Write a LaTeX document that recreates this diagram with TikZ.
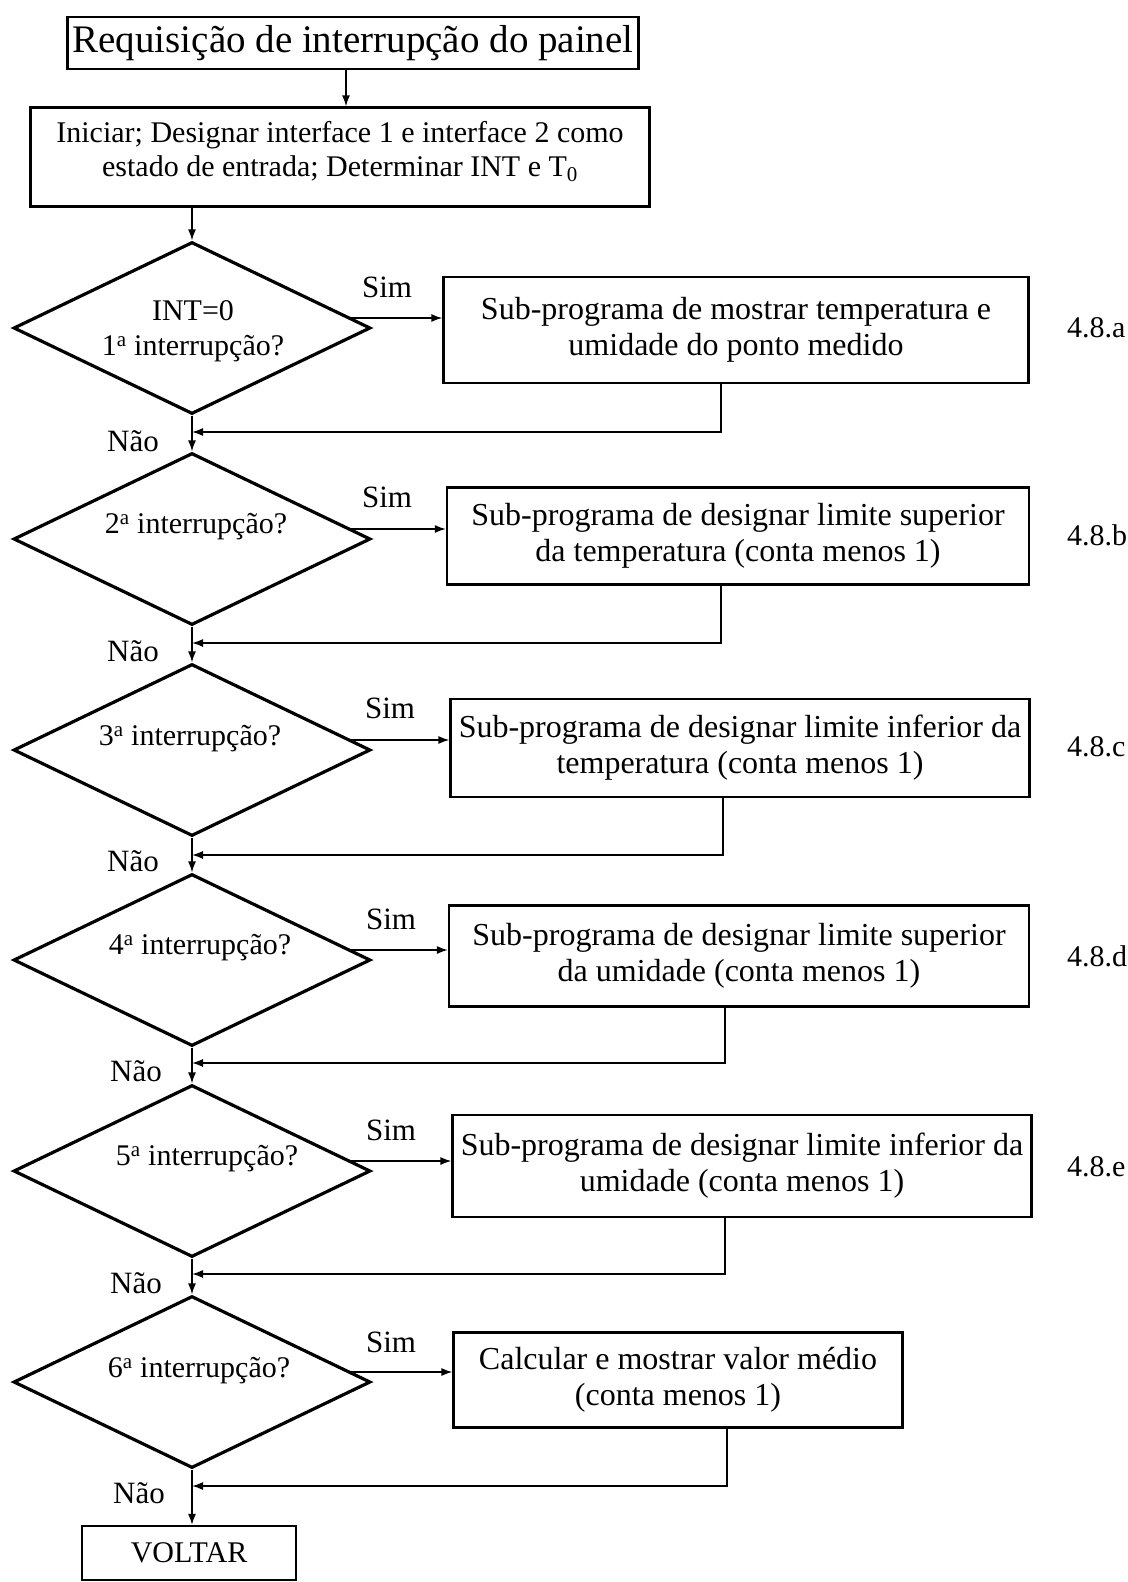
\documentclass[tikz,border=0pt]{standalone}
\usepackage{fontspec}
\setmainfont{Liberation Serif}
\usetikzlibrary{shapes.geometric,arrows.meta,calc}
\begin{document}
\begin{tikzpicture}[x=1pt,y=-1pt,
  box/.style={draw, line width=2.2pt, inner sep=0pt, align=center,
              font=\fontsize{32}{36}\selectfont},
  dec/.style={draw, diamond, line width=3.2pt, inner sep=0pt,
              minimum width=357pt, minimum height=172pt},
  dtext/.style={inner sep=0pt, align=center, font=\fontsize{30}{35}\selectfont},
  lbl/.style={inner sep=0pt, font=\fontsize{31}{36}\selectfont},
  ref/.style={inner sep=0pt, anchor=west, font=\fontsize{30}{36}\selectfont},
  arr/.style={line width=1.5pt, -{Latex[length=11pt,width=8pt]}},
  ln/.style={line width=1.5pt}]
\useasboundingbox (0,0) rectangle (1127,1582);

% start of the routine
\node[box, minimum width=571pt, minimum height=52pt,
      font=\fontsize{39}{44}\selectfont] (req) at (353,43)
  {Requisição de interrupção do painel};
\node[box, minimum width=619pt, minimum height=99pt,
      font=\fontsize{30}{34}\selectfont, text depth=16pt] (init) at (340,157)
  {Iniciar; Designar interface 1 e interface 2 como\\
   estado de entrada; Determinar INT e T\textsubscript{0}};

% decisions
\node[dec] (d1) at (192,328)  {};
\node[dec] (d2) at (192,539)  {};
\node[dec] (d3) at (192,750)  {};
\node[dec] (d4) at (192,960)  {};
\node[dec] (d5) at (192,1171) {};
\node[dec] (d6) at (192,1382) {};

\node[dtext] (q1) at (193,331)  {INT=0\\1\textsuperscript{a} interrupção?};
\node[dtext] (q2) at (196,527)  {2\textsuperscript{a} interrupção?};
\node[dtext] (q3) at (190,739)  {3\textsuperscript{a} interrupção?};
\node[dtext] (q4) at (200,948)  {4\textsuperscript{a} interrupção?};
\node[dtext] (q5) at (207,1159) {5\textsuperscript{a} interrupção?};
\node[dtext] (q6) at (199,1371) {6\textsuperscript{a} interrupção?};

% sub-programs
\node[box, minimum width=585pt, minimum height=106pt] (ba) at (736,330)
  {Sub-programa de mostrar temperatura e\\umidade do ponto medido};
\node[box, minimum width=582pt, minimum height=97pt] (bb) at (738,536)
  {Sub-programa de designar limite superior\\da temperatura (conta menos 1)};
\node[box, minimum width=579pt, minimum height=98pt] (bc) at (740,748)
  {Sub-programa de designar limite inferior da\\temperatura (conta menos 1)};
\node[box, minimum width=580pt, minimum height=101pt] (bd) at (739,956)
  {Sub-programa de designar limite superior\\da umidade (conta menos 1)};
\node[box, minimum width=579pt, minimum height=102pt] (be) at (742,1166)
  {Sub-programa de designar limite inferior da\\umidade (conta menos 1)};
\node[box, minimum width=449pt, minimum height=95pt] (bf) at (678,1380)
  {Calcular e mostrar valor médio\\(conta menos 1)};

\node[box, minimum width=214pt, minimum height=54pt,
      font=\fontsize{30}{34}\selectfont] (back) at (189,1553)
  {VOLTAR};

% section references
\node[ref] (ra) at (1067,328)  {4.8.a};
\node[ref] (rb) at (1067,535)  {4.8.b};
\node[ref] (rc) at (1067,747)  {4.8.c};
\node[ref] (rd) at (1067,956)  {4.8.d};
\node[ref] (re) at (1067,1167) {4.8.e};

% yes / no labels
\node[lbl] (y1) at (387,287)  {Sim};
\node[lbl] (y2) at (387,497)  {Sim};
\node[lbl] (y3) at (390,708)  {Sim};
\node[lbl] (y4) at (391,919)  {Sim};
\node[lbl] (y5) at (391,1130) {Sim};
\node[lbl] (y6) at (391,1342) {Sim};

\node[lbl] (n1) at (133,441)  {Não};
\node[lbl] (n2) at (133,651)  {Não};
\node[lbl] (n3) at (133,861)  {Não};
\node[lbl] (n4) at (136,1071) {Não};
\node[lbl] (n5) at (136,1283) {Não};
\node[lbl] (n6) at (139,1493) {Não};

% main flow
\coordinate (top) at (346,0);
\draw[arr] (top |- req.south) -- (top |- init.north);
\draw[arr] (d1.north |- init.south) -- (d1.north);
\draw[arr] (d1.south) -- (d2.north);
\draw[arr] (d2.south) -- (d3.north);
\draw[arr] (d3.south) -- (d4.north);
\draw[arr] (d4.south) -- (d5.north);
\draw[arr] (d5.south) -- (d6.north);
\draw[arr] (d6.south) -- (d6.south |- back.north);

% "Sim" branches
\foreach \d/\b in {d1/ba, d2/bb, d3/bc, d4/bd, d5/be, d6/bf}{
  \coordinate (s-\d) at ($(\d.center)+(157,-10)$);
  \draw[arr] (s-\d) -- (s-\d -| \b.west);
}

% returns to the main column
\foreach \b/\d/\x/\y in {ba/d1/721/432, bb/d2/721/643, bc/d3/723/855,
                         bd/d4/725/1063, be/d5/725/1274, bf/d6/727/1486}{
  \coordinate (r-\b) at (\x,\y);
  \draw[arr] (r-\b |- \b.south) -- (r-\b) -- (r-\b -| \d.south);
}
\end{tikzpicture}
\end{document}
